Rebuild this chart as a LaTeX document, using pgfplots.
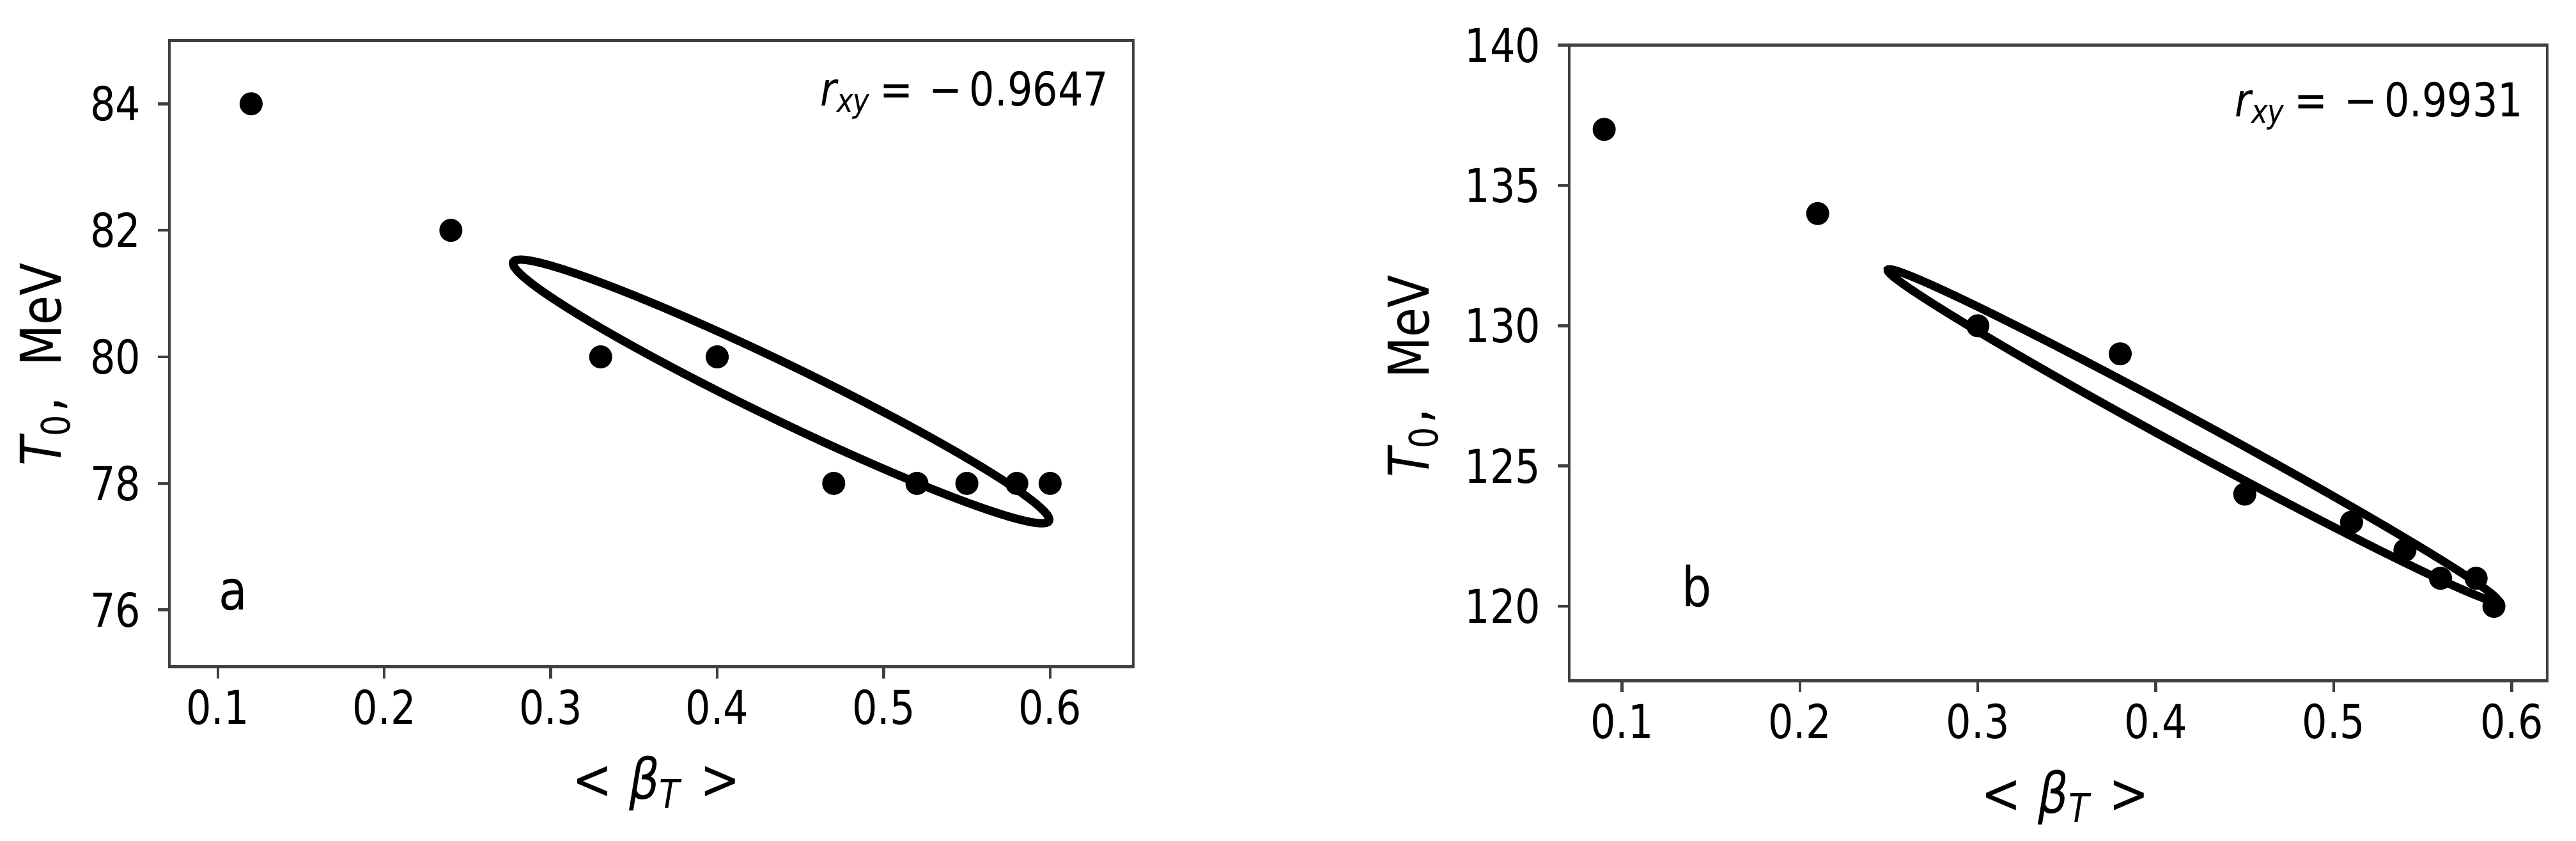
\documentclass[border=0pt]{standalone}
\usepackage{fontspec}
\setmainfont{DejaVu Sans}[FakeStretch=0.85]
\usepackage{pgfplots}
\pgfplotsset{compat=1.18}
\begin{document}
\begin{tikzpicture}
\useasboundingbox (0,0) rectangle (403pt,131.4pt);
\pgfplotsset{
  myaxis/.style={
    scale only axis, anchor=south west,
    axis line style={line width=0.45pt, black!75},
    tick style={line width=0.45pt, black!75},
    tick align=outside, major tick length=1.8pt,
    xtick pos=bottom, ytick pos=left,
    /pgf/number format/assume math mode=true,
    ticklabel style={font=\fontsize{7.3}{8}\selectfont, inner sep=0pt},
    xticklabel style={yshift=-1.6pt},
    yticklabel style={xshift=-2.5pt},
    xtick={0.1,0.2,0.3,0.4,0.5,0.6},
    xticklabels={0.1,0.2,0.3,0.4,0.5,0.6},
    xlabel={<\hspace{0.3em}{\itshape β}\textsubscript{\itshape T}\hspace{0.3em}>},
    ylabel={{\itshape T}\textsubscript{0},\ \ MeV},
    every axis x label/.style={at={(axis description cs:0.505,-0.211)}, anchor=base, inner sep=0pt, font=\fontsize{8.8}{10}\selectfont},
  }
}
% ---------- panel a ----------
\begin{axis}[myaxis,
  at={(26.5pt,27.13pt)}, width=150.8pt, height=97.94pt,
  xmin=0.0709, xmax=0.65, ymin=75.1, ymax=85.0,
  ytick={76,78,80,82,84},
  every axis y label/.style={at={(axis description cs:-0.1127,0.483)}, rotate=90, anchor=base, inner sep=0pt, font=\fontsize{8.8}{10}\selectfont},
]
\addplot[only marks, mark=*, mark size=1.6pt, black] coordinates {
(0.12,84) (0.24,82) (0.33,80) (0.40,80) (0.47,78) (0.52,78) (0.55,78) (0.58,78) (0.60,78)
};
\draw[line width=1.3pt, rotate around={-25.78:(axis cs:0.4384,79.453)}] (axis cs:0.4384,79.453) ellipse [x radius=46.54pt, y radius=4.327pt];
\node[anchor=base east, inner sep=0pt, font=\fontsize{7.3}{8}\selectfont] at (axis cs:0.6358,83.97) {{\itshape r}\textsubscript{\itshape xy}\hspace{0.15em}=\hspace{0.35em}−\hspace{0.15em}0.9647};
\node[anchor=base west, inner sep=0pt, font=\fontsize{8.6}{10}\selectfont] at (axis cs:0.1,76) {a};
\end{axis}
% ---------- panel b ----------
\begin{axis}[myaxis,
  at={(245.5pt,24.97pt)}, width=153pt, height=99.36pt,
  xmin=0.0704, xmax=0.62, ymin=117.35, ymax=140,
  ytick={120,125,130,135,140},
  every axis y label/.style={at={(axis description cs:-0.1438,0.479)}, rotate=90, anchor=base, inner sep=0pt, font=\fontsize{8.8}{10}\selectfont},
  every axis x label/.style={at={(axis description cs:0.507,-0.209)}, anchor=base, inner sep=0pt, font=\fontsize{8.8}{10}\selectfont},
]
\addplot[only marks, mark=*, mark size=1.6pt, black] coordinates {
(0.09,137) (0.21,134) (0.30,130) (0.38,129) (0.45,124) (0.51,123) (0.54,122) (0.56,121) (0.58,121) (0.59,120)
};
\draw[line width=1.3pt, rotate around={-28.49:(axis cs:0.4208,126.091)}] (axis cs:0.4208,126.091) ellipse [x radius=54.3pt, y radius=2.373pt];
\node[anchor=base east, inner sep=0pt, font=\fontsize{7.3}{8}\selectfont] at (axis cs:0.6071,137.45) {{\itshape r}\textsubscript{\itshape xy}\hspace{0.15em}=\hspace{0.35em}−\hspace{0.15em}0.9931};
\node[anchor=base west, inner sep=0pt, font=\fontsize{8.6}{10}\selectfont] at (axis cs:0.133,120) {b};
\end{axis}
\end{tikzpicture}
\end{document}
